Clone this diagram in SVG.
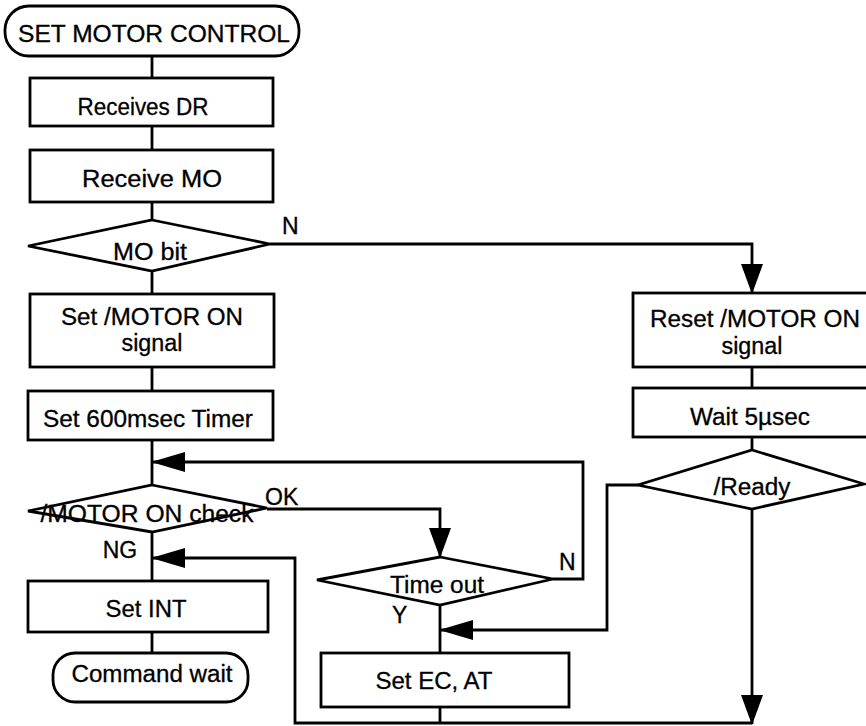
<svg xmlns="http://www.w3.org/2000/svg" width="866" height="726" viewBox="0 0 866 726">
<defs>
<style>
.s{fill:#fff;stroke:#000;stroke-width:2.8}
.c{fill:none;stroke:#000;stroke-width:2.8}
text{font-family:"Liberation Sans",Arial,sans-serif;font-size:23px;fill:#000;text-anchor:middle;stroke:#000;stroke-width:0.3}
.l{text-anchor:start}
</style>
<marker id="ah" viewBox="0 0 34 20" markerWidth="34" markerHeight="20" refX="33" refY="10" orient="auto" markerUnits="userSpaceOnUse">
<path d="M0,0 L34,10 L0,20 Z" fill="#000"/>
</marker>
<marker id="av" viewBox="0 0 30 22" markerWidth="30" markerHeight="22" refX="29" refY="11" orient="auto" markerUnits="userSpaceOnUse">
<path d="M0,0 L30,11 L0,22 Z" fill="#000"/>
</marker>
</defs>
<g id="connectors">
<path class="c" d="M152,55 V78 M152,126 V150 M152,202 V220 M152,271 V294 M152,367 V391 M152,440 V485 M152,532 V581 M152,632 V653"/>
<path class="c" d="M270,244 H752 V293" marker-end="url(#av)"/>
<path class="c" d="M752,367 V388 M752,437 V450"/>
<path class="c" d="M553,579 H583 V462 H152" marker-end="url(#ah)"/>
<path class="c" d="M267,509 H440 V557" marker-end="url(#av)"/>
<path class="c" d="M440,605 V653 M440,707 V723"/>
<path class="c" d="M638,485 H607 V630 H440" marker-end="url(#ah)"/>
<path class="c" d="M752,509 V724" marker-end="url(#av)"/>
<path class="c" d="M752,723 H295 V558 H152" marker-end="url(#ah)"/>
</g>
<g id="start"><rect class="s" x="5" y="6" width="294" height="50" rx="24"/><text x="154" y="42" textLength="272" lengthAdjust="spacingAndGlyphs">SET MOTOR CONTROL</text></g>
<g id="receives-dr"><rect class="s" x="30" y="78" width="243" height="48"/><text x="143" y="115" textLength="131" lengthAdjust="spacingAndGlyphs">Receives DR</text></g>
<g id="receive-mo"><rect class="s" x="30" y="150" width="243" height="52"/><text x="152" y="187" textLength="140" lengthAdjust="spacingAndGlyphs">Receive MO</text></g>
<g id="mo-bit"><path class="s" d="M152,220 L270,244 L152,271 L28,246 Z"/><text x="150" y="260" textLength="74" lengthAdjust="spacingAndGlyphs">MO bit</text><text class="l" x="282" y="234">N</text></g>
<g id="set-motor-on"><rect class="s" x="30" y="294" width="244" height="73"/><text x="152" y="325" textLength="182" lengthAdjust="spacingAndGlyphs">Set /MOTOR ON</text><text x="152" y="351" textLength="61" lengthAdjust="spacingAndGlyphs">signal</text></g>
<g id="set-timer"><rect class="s" x="28" y="391" width="245" height="49"/><text x="148" y="427" textLength="210" lengthAdjust="spacingAndGlyphs">Set 600msec Timer</text></g>
<g id="motor-on-check"><path class="s" d="M152,485 L267,508 L152,532 L28,511 Z"/><text x="147" y="522" textLength="213" lengthAdjust="spacingAndGlyphs">/MOTOR ON check</text><text class="l" x="265" y="505">OK</text><text x="120" y="558">NG</text></g>
<g id="set-int"><rect class="s" x="28" y="581" width="240" height="51"/><text x="146" y="617" textLength="81" lengthAdjust="spacingAndGlyphs">Set INT</text></g>
<g id="command-wait"><rect class="s" x="53" y="653" width="195" height="49" rx="22"/><text x="152" y="682" textLength="161" lengthAdjust="spacingAndGlyphs">Command wait</text></g>
<g id="time-out"><path class="s" d="M440,557 L553,579 L440,605 L317,580 Z"/><text x="437" y="593" textLength="94" lengthAdjust="spacingAndGlyphs">Time out</text><text class="l" x="559" y="570">N</text><text class="l" x="392" y="623">Y</text></g>
<g id="set-ec-at"><rect class="s" x="321" y="653" width="248" height="54"/><text x="434" y="689" textLength="117" lengthAdjust="spacingAndGlyphs">Set EC, AT</text></g>
<g id="reset-motor-on"><rect class="s" x="633" y="293" width="240" height="74"/><text x="755" y="327" textLength="210" lengthAdjust="spacingAndGlyphs">Reset /MOTOR ON</text><text x="752" y="354" textLength="61" lengthAdjust="spacingAndGlyphs">signal</text></g>
<g id="wait-5us"><rect class="s" x="633" y="388" width="240" height="49"/><text x="750" y="425" textLength="120" lengthAdjust="spacingAndGlyphs">Wait 5µsec</text></g>
<g id="ready"><path class="s" d="M752,450 L864,484 L752,509 L638,485 Z"/><text x="752" y="495" textLength="77" lengthAdjust="spacingAndGlyphs">/Ready</text></g>
</svg>
